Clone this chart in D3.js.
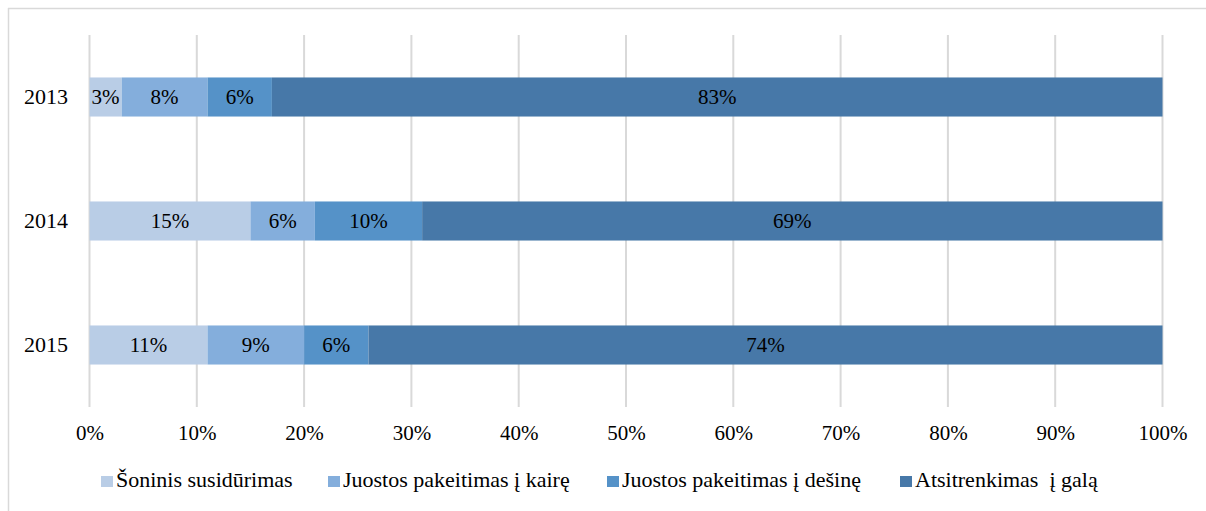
<!DOCTYPE html>
<html><head><meta charset="utf-8">
<script src="https://cdn.jsdelivr.net/npm/d3@7"></script>
<style>html,body{margin:0;padding:0;background:#fff;}</style>
</head><body>
<svg id="c" width="1206" height="511"></svg>
<script>
const years = ["2013", "2014", "2015"];
const seriesNames = ["Šoninis susidūrimas", "Juostos pakeitimas į kairę", "Juostos pakeitimas į dešinę", "Atsitrenkimas  į galą"];
const soninis = [3, 15, 11];
const kaire = [8, 6, 9];
const desine = [6, 10, 6];
const galas = [83, 69, 74];
const xTicks = [0, 10, 20, 30, 40, 50, 60, 70, 80, 90, 100];
const colors = ["#B9CDE6", "#84AEDC", "#5592C8", "#4778A8"];

const series = [soninis, kaire, desine, galas];
const svg = d3.select("#c");
const font = "'Liberation Serif','Times New Roman',serif";

// outer frame
svg.append("line").attr("x1", 8).attr("x2", 1206).attr("y1", 8.5).attr("y2", 8.5).attr("stroke", "#d9d9d9").attr("stroke-width", 1.5);
svg.append("line").attr("x1", 8.5).attr("x2", 8.5).attr("y1", 8).attr("y2", 511).attr("stroke", "#d9d9d9").attr("stroke-width", 1.5);

const x = d3.scaleLinear().domain([0, 100]).range([89.5, 1162.5]);
const y = d3.scaleBand().domain(years).range([35, 407]).paddingInner(0.685).paddingOuter(0.3425);

// gridlines
svg.append("g").selectAll("line").data(xTicks).join("line")
  .attr("x1", d => x(d)).attr("x2", d => x(d))
  .attr("y1", 35).attr("y2", 407)
  .attr("stroke", "#d9d9d9").attr("stroke-width", 2);

// stacked data
const rows = years.map((yr, i) => {
  let acc = 0;
  return series.map((s, k) => { const v = s[i]; const r = {yr, k, x0: acc, x1: acc + v, v}; acc += v; return r; });
});

const g = svg.append("g");
rows.flat().forEach(d => {
  g.append("rect")
    .attr("x", x(d.x0)).attr("width", x(d.x1) - x(d.x0))
    .attr("y", y(d.yr)).attr("height", y.bandwidth())
    .attr("fill", colors[d.k]);
  g.append("text")
    .attr("x", (x(d.x0) + x(d.x1)) / 2).attr("y", y(d.yr) + y.bandwidth() / 2)
    .attr("dy", "0.35em").attr("text-anchor", "middle")
    .attr("font-family", font).attr("font-size", 21).attr("fill", "#000")
    .text(d.v + "%");
});

// y axis labels
const yAxis = svg.append("g").attr("transform", "translate(75,0)")
  .call(d3.axisLeft(y).tickSize(0).tickPadding(7));
yAxis.select(".domain").remove();
yAxis.selectAll("text").attr("font-family", font).attr("font-size", 22).attr("fill", "#000");

// x axis labels
const xAxis = svg.append("g").attr("transform", "translate(0,421)")
  .call(d3.axisBottom(x).tickValues(xTicks).tickFormat(d => d + "%").tickSize(0).tickPadding(4));
xAxis.select(".domain").remove();
xAxis.selectAll("text").attr("font-family", font).attr("font-size", 21).attr("fill", "#000");

// legend
const legX = [101, 328, 607, 900];
const leg = svg.append("g");
seriesNames.forEach((n, i) => {
  leg.append("rect").attr("x", legX[i]).attr("y", 476).attr("width", 12).attr("height", 11).attr("fill", colors[i]);
  leg.append("text").attr("x", legX[i] + 15).attr("y", 487)
    .attr("font-family", font).attr("font-size", 22).attr("fill", "#000").attr("xml:space", "preserve")
    .style("white-space", "pre").text(n);
});
</script>
</body></html>
